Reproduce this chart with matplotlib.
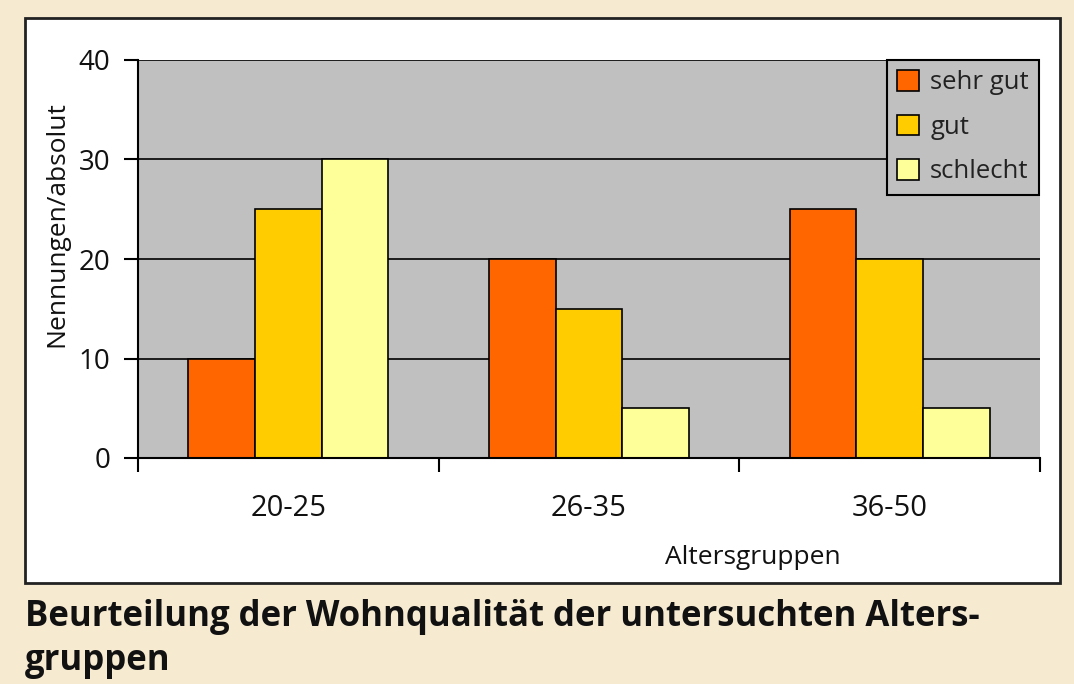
import matplotlib
matplotlib.use("Agg")
import matplotlib.pyplot as plt
from matplotlib.patches import Rectangle, Patch
import numpy as np

categories = ["20-25", "26-35", "36-50"]
series_names = ["sehr gut", "gut", "schlecht"]
sehr_gut = [10, 20, 25]
gut = [25, 15, 20]
schlecht = [30, 5, 5]
colors = ["#FF6600", "#FFCC00", "#FFFF99"]
yticks = [0, 10, 20, 30, 40]

plt.rcParams['font.family'] = ['Open Sans', 'DejaVu Sans']

fig = plt.figure(figsize=(10.74, 6.84), dpi=100)
fig.patch.set_facecolor("#F6EAD1")

# white chart box
box = Rectangle((25/1074, (684-583)/684), 1035/1074, 565/684,
                transform=fig.transFigure, facecolor="white",
                edgecolor="#222222", linewidth=2, zorder=-5)
fig.patches.append(box)

ax = fig.add_axes([138/1074, (684-458)/684, 902/1074, 398/684])
ax.set_zorder(2)
ax.set_facecolor("#C0C0C0")

x = np.arange(len(categories))
w = 0.222
for i, (vals, name) in enumerate(zip([sehr_gut, gut, schlecht], series_names)):
    ax.bar(x + (i - 1) * w, vals, width=w, color=colors[i], edgecolor="black",
           linewidth=1.2, label=name, zorder=3)

ax.set_xlim(-0.5, 2.5)
ax.set_ylim(0, 40)
ax.set_yticks(yticks)
ax.set_yticklabels([str(t) for t in yticks], fontsize=20, color="#111111")
for t in yticks[1:]:
    ax.axhline(t, color="black", linewidth=1.2, zorder=1)

ax.set_xticks([-0.5, 0.5, 1.5, 2.5])
ax.set_xticklabels([])
ax.set_xticks(x, minor=True)
ax.set_xticklabels(categories, minor=True, fontsize=21, color="#111111")
ax.tick_params(axis='x', which='major', length=10, width=1.5, direction='out', color='black')
ax.tick_params(axis='x', which='minor', length=0, pad=26)
ax.tick_params(axis='y', length=10, width=1.5, direction='out', pad=10, color='black')

for s in ["top", "right"]:
    ax.spines[s].set_visible(False)
for s in ["left", "bottom"]:
    ax.spines[s].set_linewidth(1.5)
    ax.spines[s].set_color("black")
    ax.spines[s].set_zorder(4)

handles = [Patch(facecolor=colors[i], edgecolor="black", linewidth=1.2) for i in range(3)]
leg = ax.legend(handles, series_names, loc="upper right", bbox_to_anchor=(0.999, 1.0),
                fontsize=18.5, frameon=True, fancybox=False, facecolor="#C0C0C0",
                edgecolor="black", framealpha=1, handlelength=0.85, handleheight=0.85,
                handletextpad=0.45, labelspacing=0.75, borderpad=0.4, borderaxespad=0)
leg.get_frame().set_linewidth(1.5)
leg.set_zorder(5)
for t in leg.get_texts():
    t.set_color("#222222")

fig.text(753/1074, (684-558)/684, "Altersgruppen", fontsize=19, ha="center", va="center",
         color="#111111")
fig.text(57/1074, (684-224)/684, "Nennungen/absolut", fontsize=19, rotation=90,
         ha="center", va="center", color="#111111")

fig.text(25/1074, (684-626)/684, "Beurteilung der Wohnqualität der untersuchten Alters-",
         fontsize=25, fontweight="bold", ha="left", va="baseline", color="#111111")
fig.text(25/1074, (684-670)/684, "gruppen",
         fontsize=25, fontweight="bold", ha="left", va="baseline", color="#111111")

fig.savefig("out.png", dpi=100, facecolor=fig.get_facecolor())
